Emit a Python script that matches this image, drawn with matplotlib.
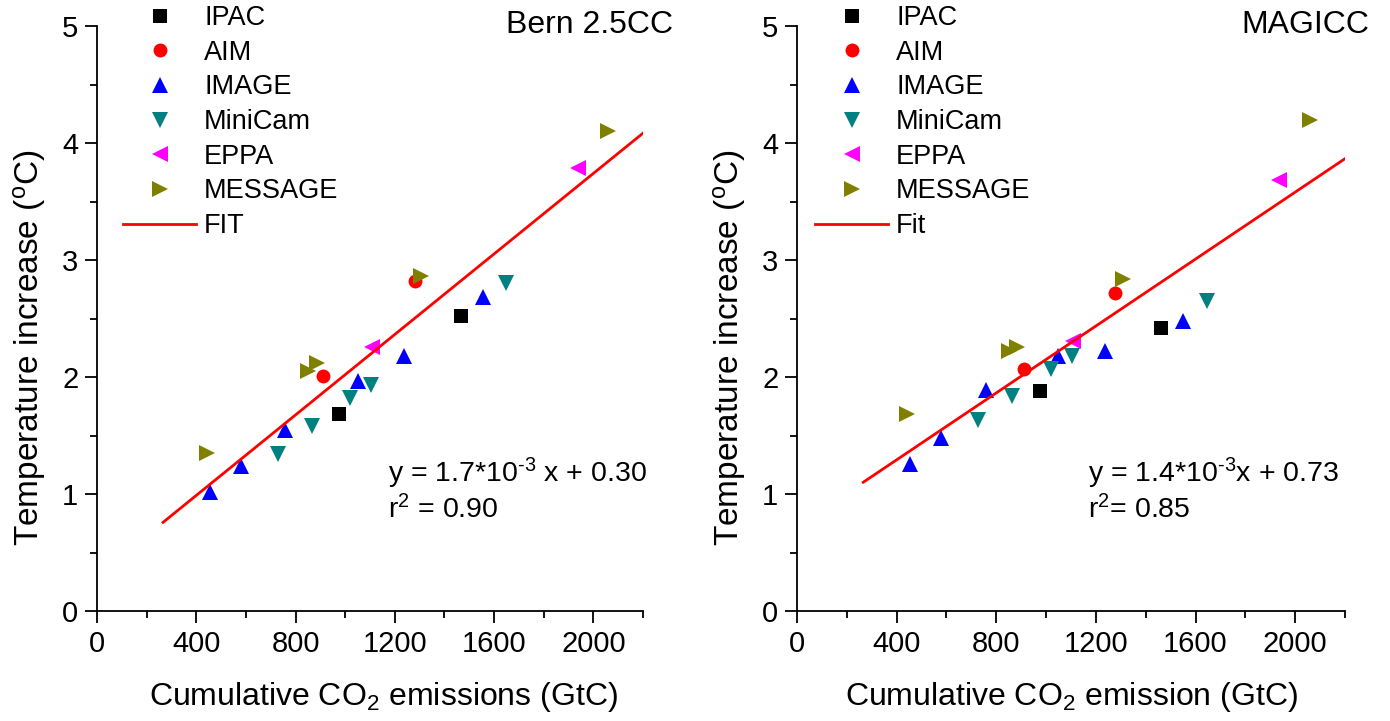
import matplotlib.pyplot as plt
from matplotlib.ticker import MultipleLocator

plt.rcParams['font.family'] = ['Liberation Sans', 'DejaVu Sans']
plt.rcParams['mathtext.fontset'] = 'custom'
plt.rcParams['mathtext.rm'] = 'Liberation Sans'
plt.rcParams['mathtext.default'] = 'regular'

# Bern 2.5CC panel (cumulative emissions GtC, temperature increase degC)
bern_ipac_x = [977, 1465]
bern_ipac_y = [1.68, 2.52]
bern_aim_x = [910, 1280]
bern_aim_y = [2.01, 2.82]
bern_image_x = [455, 582, 758, 1050, 1238, 1555]
bern_image_y = [1.02, 1.24, 1.55, 1.97, 2.18, 2.68]
bern_minicam_x = [730, 865, 1020, 1105, 1648]
bern_minicam_y = [1.34, 1.58, 1.82, 1.93, 2.80]
bern_eppa_x = [1110, 1938]
bern_eppa_y = [2.26, 3.79]
bern_message_x = [442, 852, 886, 1306, 2058]
bern_message_y = [1.35, 2.05, 2.12, 2.86, 4.10]
bern_fit = [1.72e-3, 0.30]   # slope, intercept

# MAGICC panel
magicc_ipac_x = [975, 1463]
magicc_ipac_y = [1.88, 2.42]
magicc_aim_x = [912, 1278]
magicc_aim_y = [2.07, 2.72]
magicc_image_x = [455, 580, 758, 1047, 1236, 1551]
magicc_image_y = [1.26, 1.48, 1.89, 2.18, 2.22, 2.48]
magicc_minicam_x = [727, 864, 1020, 1105, 1646]
magicc_minicam_y = [1.63, 1.84, 2.07, 2.18, 2.65]
magicc_eppa_x = [1110, 1936]
magicc_eppa_y = [2.31, 3.68]
magicc_message_x = [441, 851, 884, 1309, 2059]
magicc_message_y = [1.68, 2.22, 2.26, 2.84, 4.20]
magicc_fit = [1.43e-3, 0.72]

fit_x = [266, 2200]

models = ['IPAC', 'AIM', 'IMAGE', 'MiniCam', 'EPPA', 'MESSAGE']
markers = ['s', 'o', '^', 'v', '<', '>']
colors = ['black', 'red', 'blue', '#008080', '#FF00FF', '#808000']
msizes = [9.5, 10, 11.5, 11.5, 11.5, 11.5]

bern = [(bern_ipac_x, bern_ipac_y), (bern_aim_x, bern_aim_y),
        (bern_image_x, bern_image_y), (bern_minicam_x, bern_minicam_y),
        (bern_eppa_x, bern_eppa_y), (bern_message_x, bern_message_y)]
magicc = [(magicc_ipac_x, magicc_ipac_y), (magicc_aim_x, magicc_aim_y),
          (magicc_image_x, magicc_image_y), (magicc_minicam_x, magicc_minicam_y),
          (magicc_eppa_x, magicc_eppa_y), (magicc_message_x, magicc_message_y)]

W, H = 1390, 721
fig = plt.figure(figsize=(W / 100, H / 100), dpi=100)
ax1 = fig.add_axes([97 / W, 110 / H, 546 / W, 585 / H])
ax2 = fig.add_axes([797 / W, 110 / H, 548 / W, 585 / H])

hy = '\u2010'
panels = [
    (ax1, bern, bern_fit, 'FIT', 'Bern 2.5CC', 673,
     'Cumulative CO$_2$ emissions (GtC)', 0.525,
     'y = 1.7*10$^{' + hy + '3}$ x + 0.30', 'r$^2$ = 0.90', 388, 123),
    (ax2, magicc, magicc_fit, 'Fit', 'MAGICC', 1369,
     'Cumulative CO$_2$ emission (GtC)', 0.5,
     'y = 1.4*10$^{' + hy + '3}$x + 0.73', 'r$^2$= 0.85', 1088, 815),
]

for ax, data, fit, fitlabel, title, tx, xlab, xlx, eq1, eq2, ex, lx in panels:
    for (xs, ys), name, m, c, s in zip(data, models, markers, colors, msizes):
        ax.plot(xs, ys, linestyle='none', marker=m, color=c, markersize=s,
                markeredgewidth=0, label=name)
    fy = [fit[0] * v + fit[1] for v in fit_x]
    ax.plot(fit_x, fy, color='red', linewidth=2, label=fitlabel)

    ax.set_xlim(0, 2200)
    ax.set_ylim(0, 5)
    ax.xaxis.set_major_locator(MultipleLocator(400))
    ax.xaxis.set_minor_locator(MultipleLocator(200))
    ax.yaxis.set_major_locator(MultipleLocator(1))
    ax.yaxis.set_minor_locator(MultipleLocator(0.5))
    ax.spines['top'].set_visible(False)
    ax.spines['right'].set_visible(False)
    for sp in ['left', 'bottom']:
        ax.spines[sp].set_linewidth(1.3)
    ax.tick_params(which='major', direction='out', length=8.5, width=1.3,
                   labelsize=21, pad=5)
    ax.tick_params(which='minor', direction='out', length=5, width=1.3)

    ax.set_xlabel(xlab, fontsize=23, va='center')
    ax.xaxis.set_label_coords(xlx, -86 / 585, transform=ax.transAxes)
    ax.set_ylabel('Temperature increase ($^o$C)', fontsize=24, va='center')
    ax.yaxis.set_label_coords(-67 / 546, 0.45, transform=ax.transAxes)

    fig.text(tx / W, 1 - 25 / H, title, fontsize=23, ha='right', va='center')
    fig.text(ex / W, 1 - 473 / H, eq1, fontsize=20.5, ha='left', va='center')
    fig.text(ex / W, 1 - 510 / H, eq2, fontsize=20.5, ha='left', va='center')

    ax.legend(loc='upper left', bbox_to_anchor=(lx / W, 1 - 5 / H),
              bbox_transform=fig.transFigure, frameon=False, fontsize=19.5,
              handlelength=2.7, handletextpad=0.3, labelspacing=0.32,
              borderpad=0, borderaxespad=0)

fig.savefig('out.png', dpi=100)
